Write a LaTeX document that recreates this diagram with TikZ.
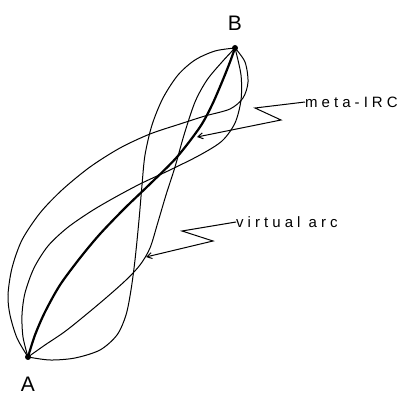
\documentclass[tikz,border=0pt]{standalone}
\usepackage{fontspec}
\setmainfont{Liberation Sans}
\newfontfamily\lblfont[LetterSpace=27]{Liberation Sans}
\usetikzlibrary{arrows.meta}
\begin{document}
\begin{tikzpicture}[x=1pt,y=-1pt,
  thin curve/.style={line width=1pt},
  thick curve/.style={line width=2.2pt},
  leader/.style={line width=1pt,-{Straight Barb[length=5pt,width=6pt]}},
  dot/.style={circle,fill=black,inner sep=0pt,minimum size=6pt},
  ptlabel/.style={font=\fontsize{21}{21}\selectfont,inner sep=0pt},
  callout/.style={font=\lblfont\fontsize{15}{16}\selectfont,anchor=west,inner sep=0pt}]
\useasboundingbox (0,0) rectangle (397,395);
\coordinate (A) at (28,357);
\coordinate (B) at (235,48);
% outer loop
\draw[thin curve] plot[smooth] coordinates {(A) (17,338) (10,315) (8,295) (12,268) (22,240) (40,213) (62,190) (90,167) (120,148) (150,134) (180,124) (205,116) (230,109) (243,98) (248,82) (245,62) (B)};
% inner right loop
\draw[thin curve] plot[smooth] coordinates {(A) (23,337) (22,315) (25,293) (34,268) (48,246) (67,228) (90,212) (112,199) (140,184) (170,170) (200,155) (222,141) (235,123) (241,100) (241,75) (B)};
% figure-eight curve
\draw[thin curve] plot[smooth] coordinates {(A) (50,360) (75,358) (100,350) (117,335) (126,315) (131,290) (135,260) (139,220) (142,185) (145,155) (152,125) (163,98) (178,75) (195,60) (215,51) (B)};
% virtual arc
\draw[thin curve] plot[smooth] coordinates {(A) (45,345) (67,330) (100,303) (125,281) (140,265) (150,248) (158,222) (166,195) (175,167) (184,135) (195,102) (207,80) (222,62) (B)};
% meta-IRC
\draw[thick curve] plot[smooth] coordinates {(A) (35,335) (45,312) (60,285) (80,258) (100,234) (125,208) (150,184) (177,157) (200,127) (212,105) (222,82) (230,62) (B)};
\node[dot] (dA) at (A) {};
\node[dot] (dB) at (B) {};
\node[ptlabel,anchor=base] (la) at (28,392) {A};
\node[ptlabel,anchor=base] (lb) at (235,31) {B};
% callouts
\node[callout] (mirc) at (305,102) {meta-IRC};
\node[callout] (varc) at (236,222) {virtual arc};
\coordinate (m1) at (255,108);
\coordinate (m2) at (281,120);
\coordinate (mt) at (197,137);
\draw[leader] (mirc.west) -- (m1) -- (m2) -- (mt);
\coordinate (v1) at (182,231);
\coordinate (v2) at (213,241);
\coordinate (vt) at (146,257);
\draw[leader] (varc.west) -- (v1) -- (v2) -- (vt);
\end{tikzpicture}
\end{document}
